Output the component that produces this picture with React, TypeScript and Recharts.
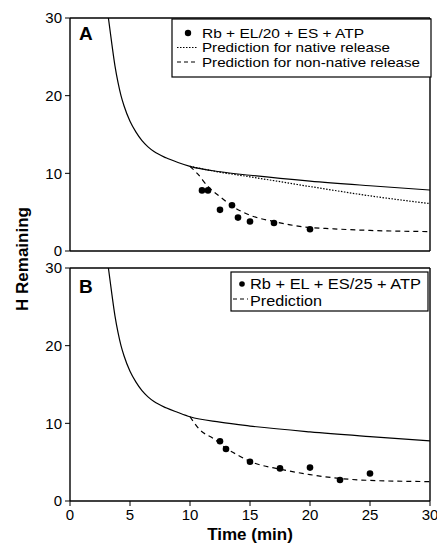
import React from 'react';
import {
  ComposedChart,
  Line,
  Scatter,
  XAxis,
  YAxis,
  ReferenceLine,
  Label,
} from 'recharts';

// time in minutes, H remaining
const timeTicks = [0, 5, 10, 15, 20, 25, 30];
const hTicks = [0, 10, 20, 30];

// Panel A
const fitA = [
  { t: 3.2, v: 30 }, { t: 3.5, v: 26.5 }, { t: 3.75, v: 23.8 }, { t: 4, v: 21.7 },
  { t: 4.25, v: 20 }, { t: 4.5, v: 18.7 }, { t: 5, v: 16.7 }, { t: 5.5, v: 15.3 },
  { t: 6, v: 14.2 }, { t: 6.5, v: 13.4 }, { t: 7, v: 12.8 }, { t: 8, v: 12 },
  { t: 9, v: 11.4 }, { t: 10, v: 10.9 }, { t: 12.5, v: 10.2 }, { t: 15, v: 9.75 },
  { t: 20, v: 9.0 }, { t: 25, v: 8.4 }, { t: 30, v: 7.85 },
];
const nativeA = [
  { t: 10, v: 10.9 }, { t: 12.5, v: 10.15 }, { t: 15, v: 9.55 }, { t: 20, v: 8.3 },
  { t: 25, v: 7.1 }, { t: 30, v: 6.1 },
];
const nonNativeA = [
  { t: 10, v: 10.9 }, { t: 10.6, v: 10.0 }, { t: 11.5, v: 8.3 }, { t: 12.5, v: 7.0 },
  { t: 13.6, v: 5.7 }, { t: 15, v: 4.6 }, { t: 17, v: 3.8 }, { t: 19, v: 3.2 },
  { t: 22, v: 2.85 }, { t: 25, v: 2.65 }, { t: 30, v: 2.5 },
];
const pointsA = [
  { t: 11, v: 7.8 }, { t: 11.5, v: 7.8 }, { t: 12.5, v: 5.3 }, { t: 13.5, v: 5.9 },
  { t: 14, v: 4.3 }, { t: 15, v: 3.8 }, { t: 17, v: 3.6 }, { t: 20, v: 2.8 },
];

// Panel B
const fitB = [
  { t: 3.2, v: 30 }, { t: 3.5, v: 26.5 }, { t: 3.75, v: 23.8 }, { t: 4, v: 21.7 },
  { t: 4.25, v: 20 }, { t: 4.5, v: 18.7 }, { t: 5, v: 16.7 }, { t: 5.5, v: 15.3 },
  { t: 6, v: 14.2 }, { t: 6.5, v: 13.4 }, { t: 7, v: 12.8 }, { t: 8, v: 12 },
  { t: 9, v: 11.4 }, { t: 10, v: 10.85 }, { t: 12.5, v: 10.15 }, { t: 15, v: 9.65 },
  { t: 20, v: 8.9 }, { t: 25, v: 8.3 }, { t: 30, v: 7.75 },
];
const predictionB = [
  { t: 10, v: 10.85 }, { t: 10.8, v: 9.2 }, { t: 12, v: 8.0 }, { t: 13, v: 6.8 },
  { t: 14, v: 5.9 }, { t: 15, v: 5.1 }, { t: 17.5, v: 4.1 }, { t: 20, v: 3.4 },
  { t: 22.5, v: 2.9 }, { t: 25, v: 2.65 }, { t: 30, v: 2.5 },
];
const pointsB = [
  { t: 12.5, v: 7.7 }, { t: 13, v: 6.7 }, { t: 15, v: 5.05 }, { t: 17.5, v: 4.2 },
  { t: 20, v: 4.3 }, { t: 22.5, v: 2.7 }, { t: 25, v: 3.55 },
];

const legendA = ['Rb + EL/20 + ES + ATP', 'Prediction for native release', 'Prediction for non-native release'];
const legendB = ['Rb + EL + ES/25 + ATP', 'Prediction'];

const font = '"Liberation Sans", Arial, Helvetica, sans-serif';
const axisLine = { stroke: '#000', strokeWidth: 1.4 };
const tickStyle = { fill: '#000', fontSize: 15, fontFamily: font };

const dot = (p: any) => <circle cx={p.cx} cy={p.cy} r={3.3} fill="#000" />;

function Frame() {
  return (
    <>
      <ReferenceLine y={30} stroke="#000" strokeWidth={1.4} />
      <ReferenceLine x={30} stroke="#000" strokeWidth={1.4} />
    </>
  );
}

export default function App() {
  return (
    <div style={{ position: 'absolute', left: 0, top: 0, width: 437, height: 548, background: '#fff', fontFamily: font }}>
      <div style={{ position: 'absolute', left: 0, top: 0 }}>
        <ComposedChart width={437} height={258} margin={{ top: 18, right: 7, bottom: 0, left: 0 }}>
          <XAxis type="number" dataKey="t" domain={[0, 30]} ticks={timeTicks} height={7}
            tick={false} tickLine={false} axisLine={axisLine} allowDataOverflow />
          <YAxis type="number" dataKey="v" domain={[0, 30]} ticks={hTicks} width={70} interval={0}
            tick={tickStyle} tickSize={5} tickMargin={3} tickLine={{ stroke: '#000' }} axisLine={axisLine} allowDataOverflow />
          {Frame()}
          <Line data={fitA} dataKey="v" type="monotone" stroke="#000" strokeWidth={1.2} dot={false} isAnimationActive={false} />
          <Line data={nativeA} dataKey="v" type="monotone" stroke="#000" strokeWidth={1.2} strokeDasharray="1.5 1.5" dot={false} isAnimationActive={false} />
          <Line data={nonNativeA} dataKey="v" type="monotone" stroke="#000" strokeWidth={1.2} strokeDasharray="5 4" dot={false} isAnimationActive={false} />
          <Scatter data={pointsA} dataKey="v" shape={dot} isAnimationActive={false} />
        </ComposedChart>
      </div>
      <div style={{ position: 'absolute', left: 0, top: 258 }}>
        <ComposedChart width={437} height={290} margin={{ top: 10, right: 7, bottom: 7, left: 0 }}>
          <XAxis type="number" dataKey="t" domain={[0, 30]} ticks={timeTicks} height={40} interval={0}
            tick={tickStyle} tickSize={5} tickMargin={3} tickLine={{ stroke: '#000' }} axisLine={axisLine} allowDataOverflow>
            <Label value="Time (min)" position="insideBottom" offset={1}
              style={{ fill: '#000', fontSize: 17, fontWeight: 'bold', fontFamily: font }} />
          </XAxis>
          <YAxis type="number" dataKey="v" domain={[0, 30]} ticks={hTicks} width={70} interval={0}
            tick={tickStyle} tickSize={5} tickMargin={3} tickLine={{ stroke: '#000' }} axisLine={axisLine} allowDataOverflow />
          {Frame()}
          <Line data={fitB} dataKey="v" type="monotone" stroke="#000" strokeWidth={1.2} dot={false} isAnimationActive={false} />
          <Line data={predictionB} dataKey="v" type="monotone" stroke="#000" strokeWidth={1.2} strokeDasharray="5 4" dot={false} isAnimationActive={false} />
          <Scatter data={pointsB} dataKey="v" shape={dot} isAnimationActive={false} />
        </ComposedChart>
      </div>
      <svg width={437} height={548} style={{ position: 'absolute', left: 0, top: 0, pointerEvents: 'none' }}>
        <text x={79} y={40} fontSize={19} fontWeight="bold" fontFamily={font}>A</text>
        <text x={79} y={293} fontSize={19} fontWeight="bold" fontFamily={font}>B</text>
        <text transform="translate(28,259) rotate(-90)" textAnchor="middle" fontSize={17} fontWeight="bold" fontFamily={font}>H Remaining</text>

        <rect x={172} y={19} width={259} height={58} fill="#fff" stroke="#000" strokeWidth={1.2} />
        <circle cx={188} cy={33} r={3.2} fill="#000" />
        <line x1={177} y1={47.5} x2={197} y2={47.5} stroke="#000" strokeWidth={1.2} strokeDasharray="1.5 1.5" />
        <line x1={177} y1={62} x2={197} y2={62} stroke="#000" strokeWidth={1.2} strokeDasharray="4 3" />
        <g fontSize={13} fontFamily={font} fill="#000">
          <text x={202} y={37.5} textLength={162} lengthAdjust="spacingAndGlyphs">{legendA[0]}</text>
          <text x={202} y={52} textLength={188} lengthAdjust="spacingAndGlyphs">{legendA[1]}</text>
          <text x={202} y={66.5} textLength={218} lengthAdjust="spacingAndGlyphs">{legendA[2]}</text>
        </g>

        <rect x={231} y={272} width={197} height={39} fill="#fff" stroke="#000" strokeWidth={1.2} />
        <circle cx={242} cy={284} r={2.8} fill="#000" />
        <line x1={233} y1={299} x2={248} y2={299} stroke="#000" strokeWidth={1.2} strokeDasharray="4 3" />
        <g fontSize={15} fontFamily={font} fill="#000">
          <text x={250} y={289} textLength={171} lengthAdjust="spacingAndGlyphs">{legendB[0]}</text>
          <text x={250} y={306} textLength={72} lengthAdjust="spacingAndGlyphs">{legendB[1]}</text>
        </g>
      </svg>
    </div>
  );
}
